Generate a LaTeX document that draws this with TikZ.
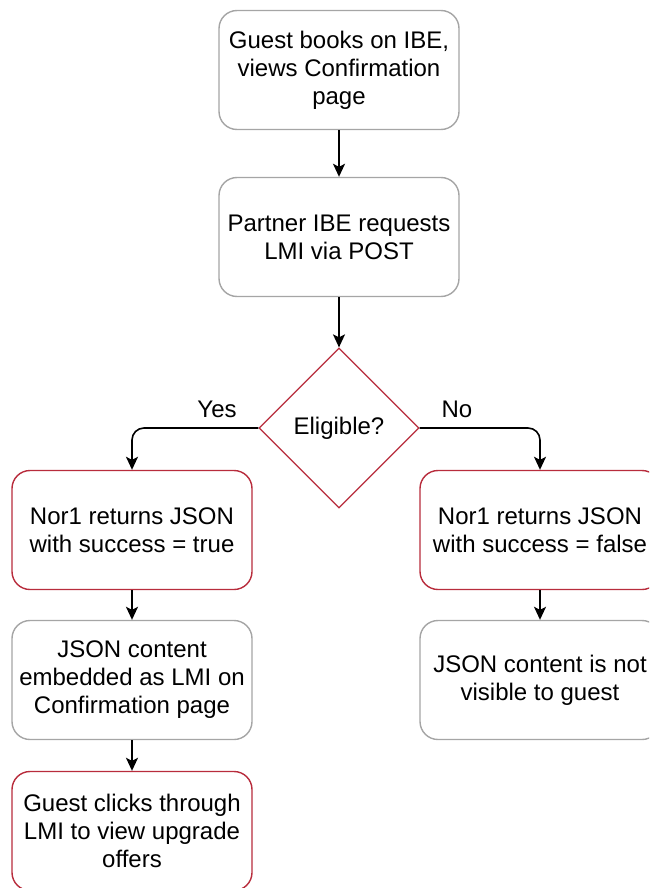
\documentclass[tikz,border=0pt]{standalone}
\usepackage{fontspec}
\setmainfont{Liberation Sans}
\usetikzlibrary{shapes.geometric,arrows.meta}
\definecolor{boxred}{RGB}{184,44,60}
\definecolor{boxgray}{RGB}{165,165,165}
\tikzset{
	box/.style={draw=boxgray, line width=1.4pt, rounded corners=18pt, fill=white,
		minimum width=240pt, minimum height=119pt, align=center,
		font=\fontsize{24}{28}\selectfont},
	redbox/.style={box, draw=boxred},
	flow/.style={-{Stealth[length=13pt,width=12pt,inset=3pt]}, line width=1.6pt, rounded corners=12pt},
	lbl/.style={font=\fontsize{24}{28}\selectfont}
}
\begin{document}
\begin{tikzpicture}[x=1pt,y=-1pt]
	\useasboundingbox (0,0) rectangle (649,888);
	\clip (0,0) rectangle (649,888);
	\node[box] (book) at (339,70) {Guest books on IBE,\\views Confirmation\\page};
	\node[box] (post) at (339,237) {Partner IBE requests\\LMI via POST};
	\node[diamond, draw=boxred, line width=1.2pt, fill=white, minimum width=160pt, minimum height=160pt, inner sep=0pt, lbl] (elig) at (339,428) {Eligible?};
	\node[redbox] (true) at (132,530) {Nor1 returns JSON\\with success = true};
	\node[redbox] (false) at (540,530) {Nor1 returns JSON\\with success = false};
	\node[box] (embed) at (132,680) {JSON content\\embedded as LMI on\\Confirmation page};
	\node[box] (hidden) at (540,680) {JSON content is not\\visible to guest};
	\node[redbox] (offers) at (132,831) {Guest clicks through\\LMI to view upgrade\\offers};
	\node[lbl] (yes) at (217,409) {Yes};
	\node[lbl] (no) at (457,409) {No};
	\draw[flow] (book) -- (post);
	\draw[flow] (post) -- (elig);
	\draw[flow] (elig.west) -| (true.north);
	\draw[flow] (elig.east) -| (false.north);
	\draw[flow] (true) -- (embed);
	\draw[flow] (embed) -- (offers);
	\draw[flow] (false) -- (hidden);
\end{tikzpicture}
\end{document}
